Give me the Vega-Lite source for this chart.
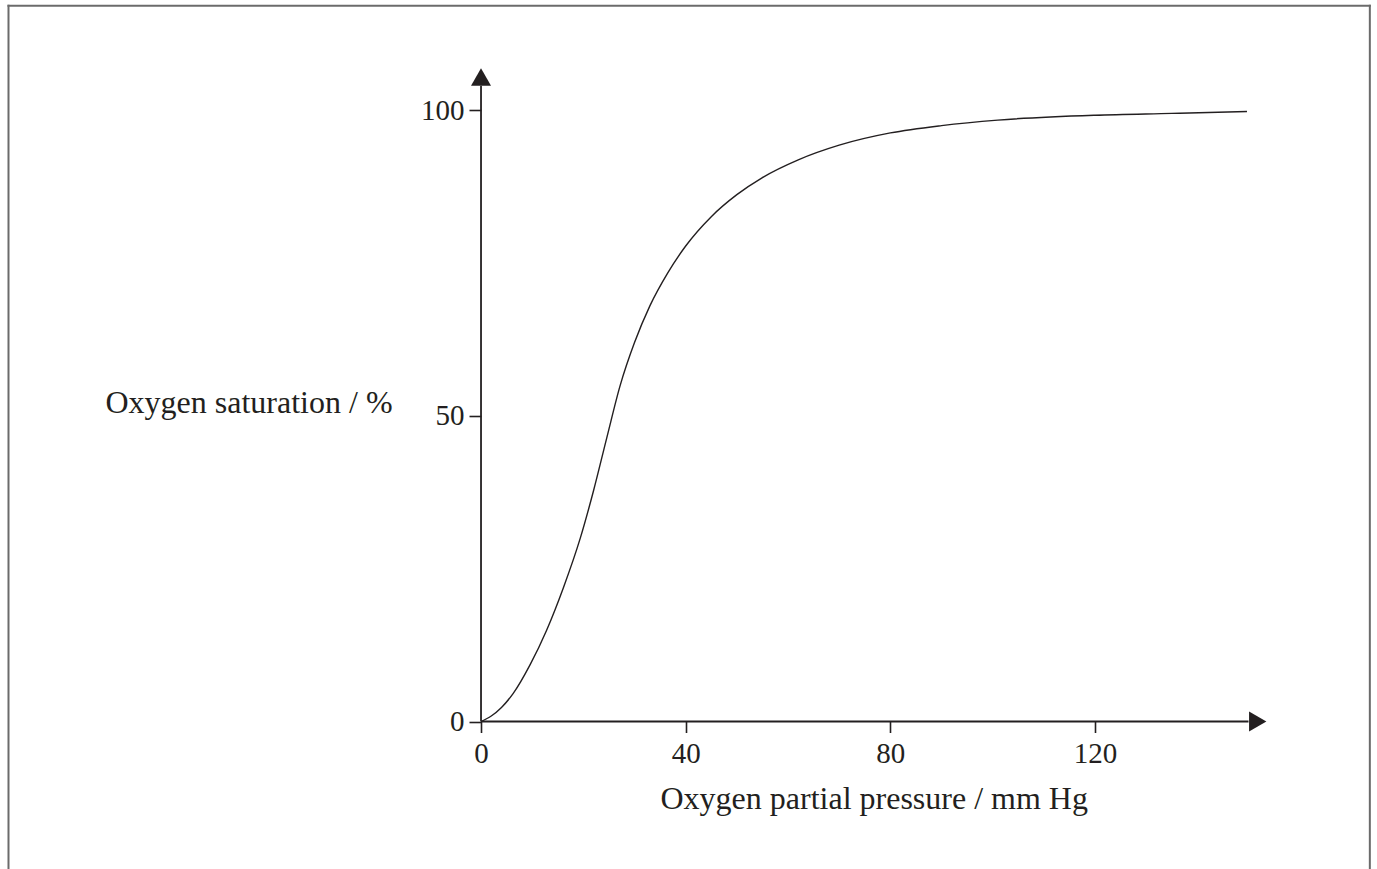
{
  "$schema": "https://vega.github.io/schema/vega-lite/v6.json",
  "width": 1377,
  "height": 869,
  "padding": 0,
  "autosize": {"type": "none"},
  "background": "white",
  "config": {"view": {"stroke": null}},
  "data": {"values": [{"k": 1}]},
  "datasets": {
    "curve": [
      {"p": 0, "s": 0},
      {"p": 2, "s": 0.9},
      {"p": 4, "s": 2.3},
      {"p": 6.3, "s": 4.6},
      {"p": 9.6, "s": 9.3},
      {"p": 12.8, "s": 14.9},
      {"p": 16.1, "s": 21.9},
      {"p": 19.4, "s": 30.0},
      {"p": 22, "s": 37.8},
      {"p": 24.6, "s": 46.5},
      {"p": 27.2, "s": 55.0},
      {"p": 30, "s": 62.0},
      {"p": 33, "s": 68.0},
      {"p": 36.5, "s": 73.4},
      {"p": 40, "s": 77.8},
      {"p": 45, "s": 82.6},
      {"p": 50, "s": 86.2},
      {"p": 55, "s": 89.0},
      {"p": 62, "s": 91.9},
      {"p": 70, "s": 94.3},
      {"p": 80, "s": 96.3},
      {"p": 90, "s": 97.5},
      {"p": 101, "s": 98.4},
      {"p": 120, "s": 99.2},
      {"p": 135, "s": 99.5},
      {"p": 149.7, "s": 99.8}
    ]
  },
  "layer": [
    {
      "mark": {"type": "rule", "color": "#6b6b6b", "strokeWidth": 2, "strokeCap": "square"},
      "encoding": {
        "x": {"datum": -92.35, "type": "quantitative", "scale": {"domain": [-94.01, 175.11], "nice": false, "zero": false}},
        "y": {"datum": 117.1, "type": "quantitative", "scale": {"domain": [-24.13, 118.05], "nice": false, "zero": false}},
        "y2": {"datum": -24.13}
      }
    },
    {
      "mark": {"type": "rule", "color": "#6b6b6b", "strokeWidth": 2, "strokeCap": "square"},
      "encoding": {
        "x": {"datum": 173.71, "type": "quantitative", "scale": {"domain": [-94.01, 175.11], "nice": false, "zero": false}},
        "y": {"datum": 117.1, "type": "quantitative", "scale": {"domain": [-24.13, 118.05], "nice": false, "zero": false}},
        "y2": {"datum": -24.13}
      }
    },
    {
      "mark": {"type": "rule", "color": "#6b6b6b", "strokeWidth": 2, "strokeCap": "square"},
      "encoding": {
        "x": {"datum": -92.35, "type": "quantitative", "scale": {"domain": [-94.01, 175.11], "nice": false, "zero": false}},
        "x2": {"datum": 173.71},
        "y": {"datum": 117.1, "type": "quantitative", "scale": {"domain": [-24.13, 118.05], "nice": false, "zero": false}}
      }
    },
    {
      "mark": {"type": "rule", "color": "#231f20", "strokeWidth": 1.8},
      "encoding": {
        "x": {"datum": 0, "type": "quantitative", "scale": {"domain": [-94.01, 175.11], "nice": false, "zero": false}},
        "y": {"datum": 0, "type": "quantitative", "scale": {"domain": [-24.13, 118.05], "nice": false, "zero": false}},
        "y2": {"datum": 104}
      }
    },
    {
      "mark": {"type": "rule", "color": "#231f20", "strokeWidth": 1.8},
      "encoding": {
        "x": {"datum": 0, "type": "quantitative", "scale": {"domain": [-94.01, 175.11], "nice": false, "zero": false}},
        "x2": {"datum": 150},
        "y": {"datum": 0, "type": "quantitative", "scale": {"domain": [-24.13, 118.05], "nice": false, "zero": false}}
      }
    },
    {
      "mark": {"type": "point", "shape": "triangle-up", "size": 400, "filled": true, "color": "#231f20", "opacity": 1},
      "encoding": {
        "x": {"datum": 0, "type": "quantitative", "scale": {"domain": [-94.01, 175.11], "nice": false, "zero": false}},
        "y": {"datum": 105.45, "type": "quantitative", "scale": {"domain": [-24.13, 118.05], "nice": false, "zero": false}}
      }
    },
    {
      "mark": {"type": "point", "shape": "triangle-right", "size": 400, "filled": true, "color": "#231f20", "opacity": 1},
      "encoding": {
        "x": {"datum": 151.8, "type": "quantitative", "scale": {"domain": [-94.01, 175.11], "nice": false, "zero": false}},
        "y": {"datum": 0, "type": "quantitative", "scale": {"domain": [-24.13, 118.05], "nice": false, "zero": false}}
      }
    },
    {
      "data": {"name": "curve"},
      "mark": {"type": "line", "interpolate": "monotone", "color": "#231f20", "strokeWidth": 1.4},
      "encoding": {
        "x": {
          "field": "p", "type": "quantitative",
          "scale": {"domain": [-94.01, 175.11], "nice": false, "zero": false},
          "axis": {
            "orient": "bottom", "offset": -147.5, "values": [0, 40, 80, 120],
            "domain": false, "grid": false,
            "tickSize": 11, "tickWidth": 1.6, "tickColor": "#231f20",
            "labelFont": "Liberation Serif", "labelFontSize": 29, "labelColor": "#231f20",
            "labelPadding": 7, "labelBaseline": "top", "labelFlush": false, "labelOverlap": false,
            "title": "Oxygen partial pressure / mm Hg",
            "titleFont": "Liberation Serif", "titleFontSize": 32, "titleFontWeight": "normal", "titleColor": "#231f20",
            "titleAlign": "left", "titleAnchor": null, "titleBaseline": "alphabetic",
            "titleX": 660, "titleY": 86.5
          }
        },
        "y": {
          "field": "s", "type": "quantitative",
          "scale": {"domain": [-24.13, 118.05], "nice": false, "zero": false},
          "axis": {
            "orient": "left", "offset": -481, "values": [0, 50, 100],
            "domain": false, "grid": false,
            "tickSize": 12, "tickWidth": 1.6, "tickColor": "#231f20",
            "labelFont": "Liberation Serif", "labelFontSize": 29, "labelColor": "#231f20",
            "labelPadding": 5, "labelBaseline": "middle", "labelFlush": false, "labelOverlap": false,
            "title": "Oxygen saturation / %",
            "titleFont": "Liberation Serif", "titleFontSize": 32, "titleFontWeight": "normal", "titleColor": "#231f20",
            "titleAngle": 0, "titleAlign": "left", "titleAnchor": null, "titleBaseline": "alphabetic",
            "titleX": -376, "titleY": 412
          }
        }
      }
    }
  ]
}
